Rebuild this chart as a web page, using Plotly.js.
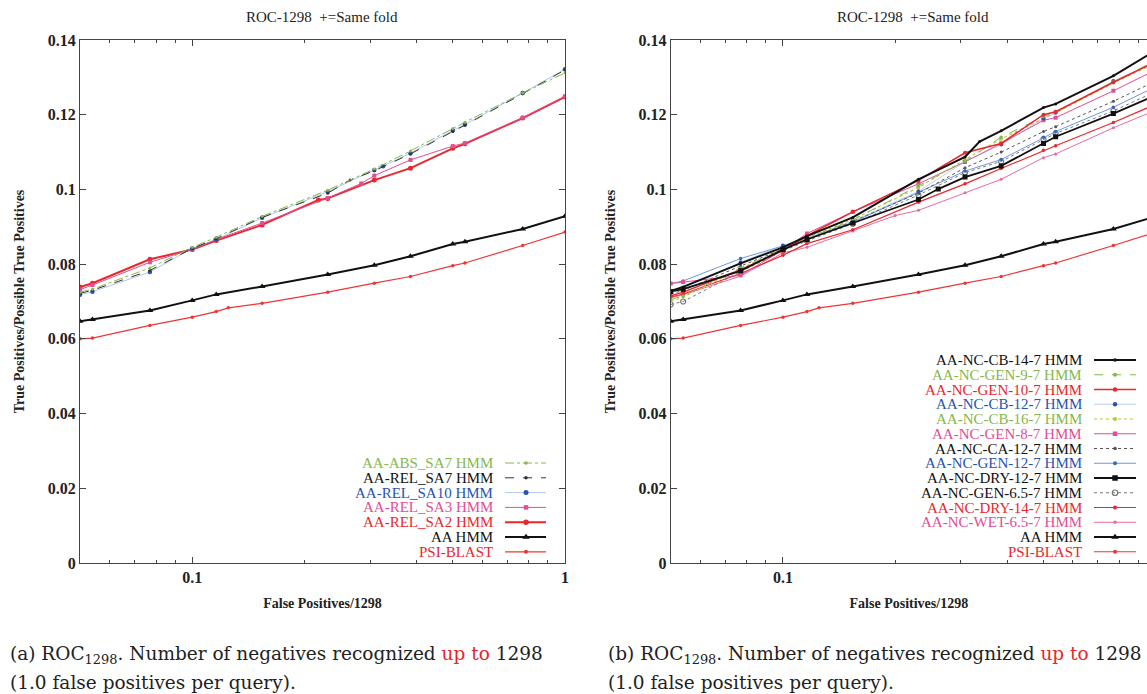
<!DOCTYPE html>
<html><head><meta charset="utf-8">
<script src="https://cdn.plot.ly/plotly-3.0.1.min.js"></script>
<style>html,body{margin:0;padding:0;background:#fff;}#chart{width:1147px;height:694px;}</style>
</head><body><div id="chart"></div>
<script>
// ---------------- DATA ----------------
const chartTitle = 'ROC-1298  +=Same fold';
const xTitle = 'False Positives/1298';
const yTitle = 'True Positives/Possible True Positives';
const xTickVals = [0.1, 1];
const xTickText = ['0.1', '1'];
const xMinorVals = [0.06, 0.07, 0.08, 0.09, 0.2, 0.3, 0.4, 0.5, 0.6, 0.7, 0.8, 0.9];

const FP = [0.05, 0.054, 0.077, 0.1, 0.116, 0.154, 0.231, 0.308, 0.385, 0.5, 0.539, 0.77, 1.0];
const FP_PSI = [0.05, 0.054, 0.077, 0.1, 0.116, 0.125, 0.154, 0.231, 0.308, 0.385, 0.5, 0.539, 0.77, 1.0];
const psiBlast = [0.0600, 0.0602, 0.0636, 0.0658, 0.0673, 0.0683, 0.0695, 0.0725, 0.0749, 0.0767, 0.0796, 0.0803, 0.0850, 0.0886];
const aaHmm = [0.0647, 0.0652, 0.0676, 0.0703, 0.0719, 0.0740, 0.0772, 0.0797, 0.0821, 0.0854, 0.0860, 0.0894, 0.0928];

// (a) left panel
const xAbsSa7 = FP;
const absSa7 = [0.0725, 0.0733, 0.0790, 0.0845, 0.0872, 0.0928, 0.0998, 0.1055, 0.1103, 0.1163, 0.1180, 0.1258, 0.1312];
const xRelSa7 = [0.05, 0.054, 0.077, 0.1, 0.116, 0.154, 0.231, 0.265, 0.308, 0.385, 0.5, 0.539, 0.77, 1.0];
const relSa7 = [0.0722, 0.0730, 0.0783, 0.0842, 0.0868, 0.0925, 0.0990, 0.1025, 0.1050, 0.1095, 0.1155, 0.1172, 0.1256, 0.1320];
const xRelSa10 = [0.05, 0.054, 0.077, 0.1, 0.116, 0.154, 0.231, 0.308, 0.325, 0.385, 0.5, 0.539, 0.77, 1.0];
const relSa10 = [0.0718, 0.0726, 0.0779, 0.0842, 0.0866, 0.0924, 0.0994, 0.1052, 0.1062, 0.1097, 0.1158, 0.1174, 0.1258, 0.1322];
const xRelSa3 = [0.05, 0.054, 0.077, 0.1, 0.116, 0.154, 0.231, 0.284, 0.308, 0.385, 0.5, 0.539, 0.77, 1.0];
const relSa3 = [0.0732, 0.0744, 0.0805, 0.0840, 0.0866, 0.0910, 0.0977, 0.1016, 0.1037, 0.1079, 0.1116, 0.1124, 0.1192, 0.1249];
const xRelSa2 = [0.05, 0.054, 0.077, 0.1, 0.116, 0.154, 0.218, 0.231, 0.308, 0.385, 0.5, 0.539, 0.77, 1.0];
const relSa2 = [0.0739, 0.0749, 0.0813, 0.0839, 0.0863, 0.0905, 0.0972, 0.0976, 0.1025, 0.1057, 0.1110, 0.1122, 0.1191, 0.1248];
const leftNames = ['AA-ABS_SA7 HMM', 'AA-REL_SA7 HMM', 'AA-REL_SA10 HMM', 'AA-REL_SA3 HMM', 'AA-REL_SA2 HMM', 'AA HMM', 'PSI-BLAST'];

// (b) right panel
const xCb14 = [0.05, 0.054, 0.077, 0.1, 0.116, 0.154, 0.231, 0.308, 0.337, 0.385, 0.5, 0.539, 0.77, 1.0];
const cb14 = [0.0728, 0.0739, 0.0802, 0.0845, 0.0875, 0.0925, 0.1027, 0.1087, 0.1128, 0.1157, 0.1219, 0.1229, 0.1304, 0.1372];
const gen9 = [0.0705, 0.0715, 0.0790, 0.0838, 0.0868, 0.0918, 0.1010, 0.1075, 0.1140, 0.1195, 0.1207, 0.1288, 0.1345];
const gen10 = [0.0715, 0.0725, 0.0785, 0.0836, 0.0876, 0.0940, 0.1024, 0.1098, 0.1123, 0.1200, 0.1208, 0.1287, 0.1342];
const cb12 = [0.0722, 0.0735, 0.0805, 0.0850, 0.0870, 0.0915, 0.0995, 0.1074, 0.1120, 0.1190, 0.1205, 0.1290, 0.1340];
const cb16 = [0.0700, 0.0712, 0.0788, 0.0840, 0.0870, 0.0920, 0.1005, 0.1080, 0.1135, 0.1190, 0.1205, 0.1285, 0.1338];
const gen8 = [0.0748, 0.0752, 0.0770, 0.0838, 0.0882, 0.0940, 0.1015, 0.1074, 0.1123, 0.1185, 0.1192, 0.1264, 0.1320];
const ca12 = [0.0720, 0.0730, 0.0795, 0.0840, 0.0865, 0.0915, 0.0990, 0.1058, 0.1100, 0.1155, 0.1168, 0.1236, 0.1290];
const gen12 = [0.0748, 0.0755, 0.0815, 0.0850, 0.0868, 0.0912, 0.0993, 0.1049, 0.1080, 0.1140, 0.1155, 0.1220, 0.1275];
const xDry12 = [0.05, 0.054, 0.077, 0.1, 0.116, 0.154, 0.231, 0.261, 0.308, 0.385, 0.5, 0.539, 0.77, 1.0];
const dry12 = [0.0727, 0.0733, 0.0782, 0.0839, 0.0866, 0.0910, 0.0973, 0.1001, 0.1033, 0.1063, 0.1123, 0.1141, 0.1203, 0.1252];
const gen65 = [0.0692, 0.0700, 0.0780, 0.0835, 0.0862, 0.0908, 0.0985, 0.1045, 0.1075, 0.1135, 0.1150, 0.1210, 0.1262];
const dry14 = [0.0712, 0.0720, 0.0775, 0.0824, 0.0855, 0.0892, 0.0966, 0.1015, 0.1056, 0.1105, 0.1117, 0.1179, 0.1228];
const xWet65 = [0.05, 0.054, 0.077, 0.1, 0.116, 0.154, 0.2, 0.231, 0.308, 0.385, 0.5, 0.539, 0.77, 1.0];
const wet65 = [0.0710, 0.0718, 0.0768, 0.0830, 0.0845, 0.0889, 0.0930, 0.0944, 0.0991, 0.1027, 0.1085, 0.1095, 0.1165, 0.1212];
const rightNames = ['AA-NC-CB-14-7 HMM', 'AA-NC-GEN-9-7 HMM', 'AA-NC-GEN-10-7 HMM', 'AA-NC-CB-12-7 HMM', 'AA-NC-CB-16-7 HMM',
  'AA-NC-GEN-8-7 HMM', 'AA-NC-CA-12-7 HMM', 'AA-NC-GEN-12-7 HMM', 'AA-NC-DRY-12-7 HMM', 'AA-NC-GEN-6.5-7 HMM',
  'AA-NC-DRY-14-7 HMM', 'AA-NC-WET-6.5-7 HMM', 'AA HMM', 'PSI-BLAST'];

const captionA = '(a) ROC<sub>1298</sub>. Number of negatives recognized <span style="color:#e8262a">up to</span> 1298';
const captionB = '(b) ROC<sub>1298</sub>. Number of negatives recognized <span style="color:#e8262a">up to</span> 1298';
const captionLine2 = '(1.0 false positives per query).';

// ---------------- STYLES ----------------
const GREEN = '#86b84c', BLUE = '#2a52b0', RED = '#e8282c', PINK = '#e24d95', BLACK = '#111111';
const S = {
  absSa7: {c: GREEN, w: 1, dash: 'dashdot', sym: 'circle', ms: 3, tc: GREEN},
  relSa7: {c: '#333', w: 1, dash: 'dash', sym: 'circle', ms: 3, tc: BLACK},
  relSa10: {c: BLUE, lc: 'rgba(120,160,225,0.6)', w: 1, dash: 'solid', sym: 'circle', ms: 4.5, tc: BLUE},
  relSa3: {c: PINK, w: 1, dash: 'solid', sym: 'square', ms: 4, tc: PINK},
  relSa2: {c: RED, w: 2, dash: 'solid', sym: 'circle', ms: 5, tc: RED},
  aa: {c: BLACK, w: 2, dash: 'solid', sym: 'triangle-up', ms: 6, tc: BLACK},
  psi: {c: '#ee3535', w: 1.2, dash: 'solid', sym: 'circle', ms: 3.5, tc: RED},
  cb14: {c: BLACK, w: 2, dash: 'solid', sym: 'circle', ms: 3, tc: BLACK},
  gen9: {c: GREEN, w: 1, dash: 'dash', sym: 'circle', ms: 3.5, tc: GREEN},
  gen10: {c: RED, w: 1.5, dash: 'solid', sym: 'circle', ms: 4, tc: RED},
  cb12: {c: BLUE, lc: 'rgba(120,160,225,0.5)', w: 1, dash: 'solid', sym: 'circle', ms: 4, tc: BLUE},
  cb16: {c: '#b9c63e', w: 1.2, dash: 'dot', sym: 'circle', ms: 3.5, tc: GREEN},
  gen8: {c: PINK, w: 1, dash: 'solid', sym: 'square', ms: 4, tc: PINK},
  ca12: {c: '#555', w: 1, dash: 'dot', sym: 'circle', ms: 3, tc: BLACK},
  gen12: {c: '#3b66bf', lc: '#7097d8', w: 1, dash: 'solid', sym: 'circle', ms: 3.5, tc: BLUE},
  dry12: {c: BLACK, w: 1.8, dash: 'solid', sym: 'square', ms: 5, tc: BLACK},
  gen65: {c: '#777', w: 1, dash: 'dot', sym: 'circle-open', ms: 5, tc: BLACK},
  dry14: {c: RED, w: 1.2, dash: 'solid', sym: 'circle', ms: 3.5, tc: RED},
  wet65: {c: '#ea6aa2', w: 1, dash: 'solid', sym: 'circle', ms: 3, tc: PINK}
};
const leftStyles = [S.absSa7, S.relSa7, S.relSa10, S.relSa3, S.relSa2, S.aa, S.psi];
const rightStyles = [S.cb14, S.gen9, S.gen10, S.cb12, S.cb16, S.gen8, S.ca12, S.gen12, S.dry12, S.gen65, S.dry14, S.wet65, S.aa, S.psi];

function mk(st, sz) {
  return {symbol: st.sym, size: sz, color: st.c, line: {width: st.sym.indexOf('open') >= 0 ? 1.2 : 0, color: st.c}};
}
function tr(x, y, xa, ya, st) {
  return {type: 'scatter', mode: 'lines+markers', x: x, y: y, xaxis: xa, yaxis: ya,
    line: {color: st.lc || st.c, width: st.w, dash: st.dash}, marker: mk(st, st.ms),
    showlegend: false, hoverinfo: 'skip'};
}

const traces = [
  tr(FP_PSI, psiBlast, 'x', 'y', S.psi),
  tr(FP, aaHmm, 'x', 'y', S.aa),
  tr(xRelSa2, relSa2, 'x', 'y', S.relSa2),
  tr(xRelSa3, relSa3, 'x', 'y', S.relSa3),
  tr(xRelSa10, relSa10, 'x', 'y', S.relSa10),
  tr(xRelSa7, relSa7, 'x', 'y', S.relSa7),
  tr(xAbsSa7, absSa7, 'x', 'y', S.absSa7),

  tr(FP_PSI, psiBlast, 'x2', 'y2', S.psi),
  tr(FP, aaHmm, 'x2', 'y2', S.aa),
  tr(xWet65, wet65, 'x2', 'y2', S.wet65),
  tr(FP, dry14, 'x2', 'y2', S.dry14),
  tr(FP, gen65, 'x2', 'y2', S.gen65),
  tr(FP, gen12, 'x2', 'y2', S.gen12),
  tr(FP, ca12, 'x2', 'y2', S.ca12),
  tr(FP, gen8, 'x2', 'y2', S.gen8),
  tr(FP, cb16, 'x2', 'y2', S.cb16),
  tr(FP, cb12, 'x2', 'y2', S.cb12),
  tr(FP, gen9, 'x2', 'y2', S.gen9),
  tr(FP, gen10, 'x2', 'y2', S.gen10),
  tr(xDry12, dry12, 'x2', 'y2', S.dry12),
  tr(xCb14, cb14, 'x2', 'y2', S.cb14)
];

// ---------------- LAYOUT GEOMETRY ----------------
const W = 1147, H = 694;
const plotTop = 40, plotBot = 563;
const DEC = 373;                       // pixels per decade on the log x axes
const L = {x0: 80, xTen: 192}, R = {x0: 670.7, xTen: 782.7};
const yDom = [(H - plotBot) / H, (H - plotTop) / H];
const xmax2 = Math.pow(10, -1 + (W - R.xTen) / DEC);

// legend key: pixel position -> data coordinates of each panel (gnuplot-style key inside the plot)
function px2x(panel, p) { return Math.pow(10, -1 + (p - panel.xTen) / DEC); }
function px2y(p) { return (plotBot - p) * 0.14 / (plotBot - plotTop); }

const annotations = [];
function legend(names, styles, xa, ya, panel, textRight, s0, s1, sm, rowTop, rowStep) {
  names.forEach(function (n, i) {
    const st = styles[i];
    const yy = px2y(rowTop + rowStep * i);
    traces.push({type: 'scatter', mode: 'lines', x: [px2x(panel, s0), px2x(panel, s1)], y: [yy, yy],
      xaxis: xa, yaxis: ya, line: {color: st.lc || st.c, width: st.w, dash: st.dash}, showlegend: false, hoverinfo: 'skip'});
    traces.push({type: 'scatter', mode: 'markers', x: [px2x(panel, sm)], y: [yy], xaxis: xa, yaxis: ya,
      marker: mk(st, st.ms + 0.5), showlegend: false, hoverinfo: 'skip'});
    annotations.push({xref: xa, yref: ya, x: Math.log10(px2x(panel, textRight)), y: yy, text: n, showarrow: false,
      xanchor: 'right', yanchor: 'middle', borderpad: 0, font: {family: 'Liberation Serif', size: 15, color: st.tc}});
  });
}
legend(leftNames, leftStyles, 'x', 'y', L, 494, 505, 546, 526, 463, 14.8);
legend(rightNames, rightStyles, 'x2', 'y2', R, 1083, 1094, 1136, 1115, 360, 14.75);

const TF = {family: 'Liberation Serif', size: 16, color: '#222', weight: 'bold'};
const AF = {family: 'Liberation Serif', size: 14, color: '#222', weight: 'bold'};
function xAxis(dom, anchor, xmax) {
  return {type: 'log', domain: dom, anchor: anchor, range: [Math.log10(0.05), Math.log10(xmax)],
    tickmode: 'array', tickvals: xTickVals, ticktext: xTickText, ticks: 'inside', ticklen: 6, tickwidth: 1, tickcolor: '#444',
    minor: {tickmode: 'array', tickvals: xMinorVals, ticks: 'inside', ticklen: 3, tickwidth: 1, tickcolor: '#444', showgrid: false},
    showline: true, linecolor: '#444', linewidth: 1, mirror: 'ticks', showgrid: false, zeroline: false,
    tickfont: TF, fixedrange: true, title: {text: xTitle, font: AF, standoff: 12}};
}
function yAxis(anchor, mirror) {
  return {domain: yDom, anchor: anchor, range: [0, 0.14], tick0: 0, dtick: 0.02, ticks: 'inside', ticklen: 6, tickwidth: 1,
    tickcolor: '#444', showline: true, linecolor: '#444', linewidth: 1, mirror: mirror, showgrid: false, zeroline: false,
    tickfont: TF, fixedrange: true, title: {text: yTitle, font: AF, standoff: 19}};
}
const xdL = [L.x0 / W, (L.xTen + DEC) / W], xdR = [R.x0 / W, 1];

function txt(x, y, text, opts) {
  return Object.assign({xref: 'paper', yref: 'paper', x: x / W, y: 1 - y / H, text: text, showarrow: false,
    xanchor: 'center', yanchor: 'middle', font: {family: 'Liberation Serif', size: 15, color: '#222'}}, opts || {});
}
annotations.push(txt(322, 17, chartTitle));
annotations.push(txt(913, 17, chartTitle));
const CF = {family: 'DejaVu Serif', size: 18.5, color: '#222'};
annotations.push(txt(8, 655, captionA, {xanchor: 'left', font: CF}));
annotations.push(txt(8, 682, captionLine2, {xanchor: 'left', font: CF}));
annotations.push(txt(606, 655, captionB, {xanchor: 'left', font: CF}));
annotations.push(txt(606, 682, captionLine2, {xanchor: 'left', font: CF}));

const layout = {
  width: W, height: H, margin: {l: 0, r: 0, t: 0, b: 0}, showlegend: false,
  paper_bgcolor: '#fff', plot_bgcolor: 'rgba(0,0,0,0)',
  xaxis: xAxis(xdL, 'y', 1),
  yaxis: yAxis('x', 'ticks'),
  xaxis2: xAxis(xdR, 'y2', xmax2),
  yaxis2: yAxis('x2', false),
  annotations: annotations
};
Plotly.newPlot('chart', traces, layout, {staticPlot: true, displayModeBar: false});
</script></body></html>
